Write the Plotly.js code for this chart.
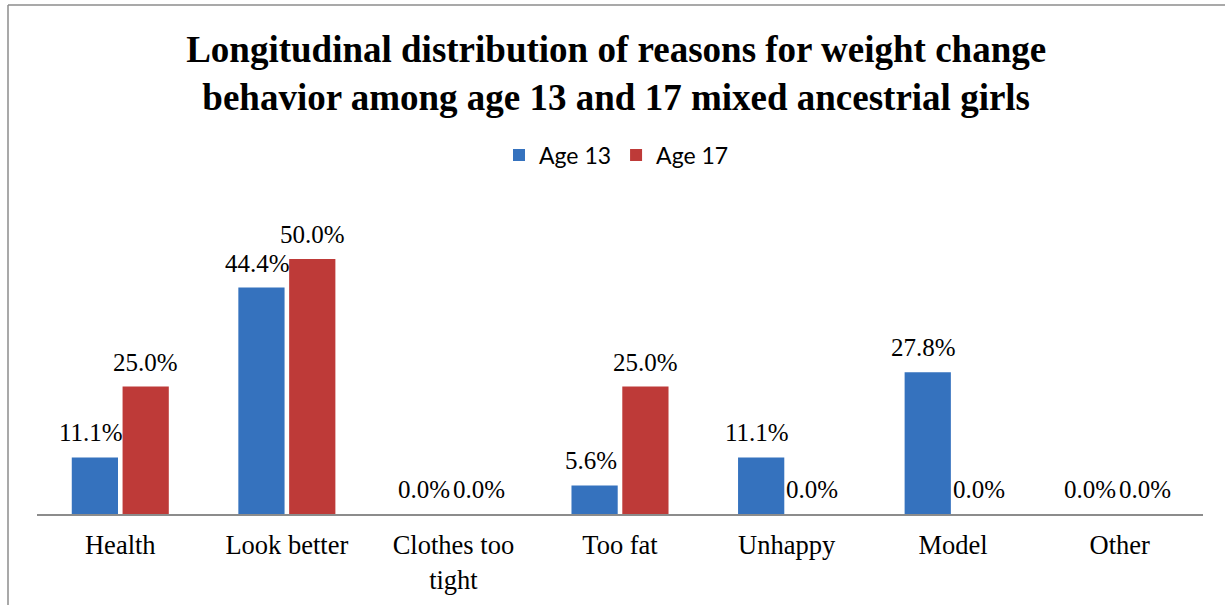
<!DOCTYPE html>
<html>
<head>
<meta charset="utf-8">
<script src="https://cdn.plot.ly/plotly-3.0.1.min.js"></script>
<style>html,body{margin:0;padding:0;background:#fff;}#chart{width:1225px;height:605px;}</style>
</head>
<body>
<div id="chart"></div>
<script>
const categories = ["Health", "Look better", "Clothes too<br>tight", "Too fat", "Unhappy", "Model", "Other"];
const age13 = [11.1, 44.4, 0.0, 5.6, 11.1, 27.8, 0.0];
const age17 = [25.0, 50.0, 0.0, 25.0, 0.0, 0.0, 0.0];
const seriesNames = ["Age 13", "Age 17"];

const L = 37, R = 22, T = 208, B = 91;
const W = 1225, H = 605;
const pw = W - L - R, ph = H - T - B;
const px = v => (v - L) / pw;
const py = v => (H - B - v) / ph;
const BARGAP = 0.39, GROUPGAP = 0.09;
const slot = pw / categories.length * (1 - BARGAP) / 2;

const labelFont = {family: "Liberation Serif, Times New Roman, serif", size: 25, color: "#000"};

function bar(name, vals, color) {
  return {
    type: "bar", name: name, x: categories, y: vals,
    marker: {color: color}, hoverinfo: "skip"
  };
}

const data = [bar(seriesNames[0], age13, "#3572be"), bar(seriesNames[1], age17, "#be3a38")];

const annotations = [];
[age13, age17].forEach((vals, s) => {
  vals.forEach((v, i) => {
    annotations.push({
      xref: "x", yref: "y", x: categories[i], y: v,
      text: v.toFixed(1) + "%", showarrow: false,
      xanchor: "center", yanchor: "bottom",
      xshift: (s === 0 ? -1 : 1) * slot / 2 + (s === 0 ? -4 : 0), yshift: 9,
      font: labelFont
    });
  });
});

const layout = {
  width: W, height: H,
  margin: {l: L, r: R, t: T, b: B},
  paper_bgcolor: "#fff", plot_bgcolor: "#fff",
  title: {
    text: "<b>Longitudinal distribution of reasons for weight change<br>behavior among age 13 and 17 mixed ancestrial girls</b>",
    font: {family: "Liberation Serif, Times New Roman, serif", size: 37, color: "#000"},
    x: 0.503, xanchor: "center", yref: "container", y: 1 - 62 / H, yanchor: "middle"
  },
  barmode: "group", bargap: BARGAP, bargroupgap: GROUPGAP,
  showlegend: true,
  legend: {
    orientation: "h", x: 0.497, xanchor: "center", y: py(155), yanchor: "middle",
    font: {family: "Lato, Open Sans, Liberation Sans, sans-serif", size: 23, color: "#000"},
    itemwidth: 30, traceorder: "normal"
  },
  xaxis: {
    showline: true, linecolor: "#8c8c8c", linewidth: 1.5,
    ticks: "", tickfont: {family: "Liberation Serif, Times New Roman, serif", size: 26.5, color: "#000"},
    ticklabelstandoff: 7, showgrid: false, fixedrange: true
  },
  yaxis: {
    range: [0, 60], visible: false, showgrid: false, zeroline: false, fixedrange: true
  },
  annotations: annotations,
  shapes: [
    {type: "line", xref: "paper", yref: "paper", x0: px(8), x1: px(8), y0: py(5), y1: py(605), line: {color: "#8c8c8c", width: 1.5}},
    {type: "line", xref: "paper", yref: "paper", x0: px(8), x1: px(1225), y0: py(5), y1: py(5), line: {color: "#8c8c8c", width: 1.5}}
  ]
};

Plotly.newPlot("chart", data, layout, {displayModeBar: false, staticPlot: true});
</script>
</body>
</html>
